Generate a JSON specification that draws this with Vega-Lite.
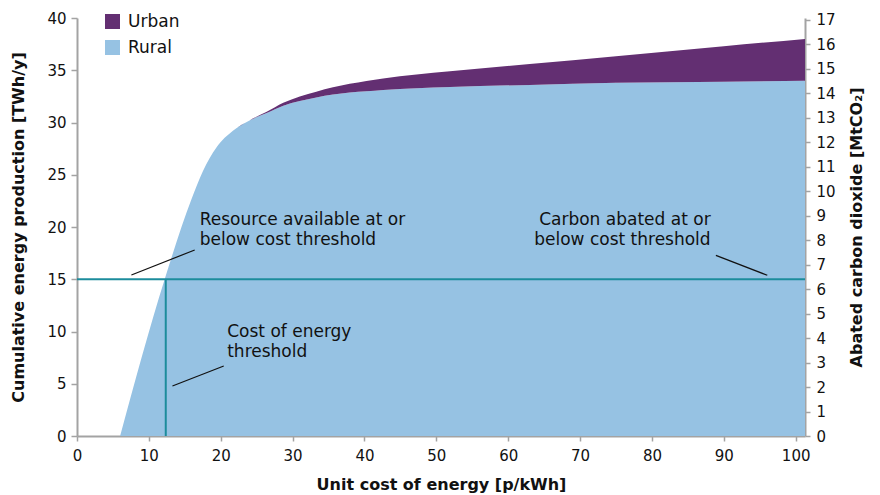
{
  "$schema": "https://vega.github.io/schema/vega-lite/v6.json",
  "width": 728,
  "height": 418,
  "autosize": {"type": "none"},
  "padding": {"left": 77, "top": 18, "right": 75, "bottom": 59},
  "background": "white",
  "config": {
    "view": {"stroke": null},
    "font": "DejaVu Sans",
    "axis": {
      "grid": false,
      "domainColor": "#a3a3a3",
      "domainWidth": 2,
      "tickColor": "#a3a3a3",
      "tickWidth": 1.5,
      "labelFont": "DejaVu Sans",
      "labelFontSize": 15,
      "labelColor": "#111111",
      "titleFont": "DejaVu Sans",
      "titleFontSize": 16,
      "titleFontWeight": "bold",
      "titleColor": "#111111"
    }
  },
  "datasets": {
    "supply": [
      {"cost": 6.0, "series": "Rural", "twh": 0},
      {"cost": 12.2, "series": "Rural", "twh": 15.0},
      {"cost": 15.9, "series": "Rural", "twh": 22.6},
      {"cost": 17.5, "series": "Rural", "twh": 25.3},
      {"cost": 19.4, "series": "Rural", "twh": 27.6},
      {"cost": 21.7, "series": "Rural", "twh": 29.2},
      {"cost": 24.0, "series": "Rural", "twh": 30.2},
      {"cost": 26.4, "series": "Rural", "twh": 30.9},
      {"cost": 28.7, "series": "Rural", "twh": 31.6},
      {"cost": 33.3, "series": "Rural", "twh": 32.4},
      {"cost": 42.6, "series": "Rural", "twh": 33.1},
      {"cost": 51.9, "series": "Rural", "twh": 33.4},
      {"cost": 63.0, "series": "Rural", "twh": 33.6},
      {"cost": 75.0, "series": "Rural", "twh": 33.8},
      {"cost": 90.0, "series": "Rural", "twh": 33.9},
      {"cost": 101.3, "series": "Rural", "twh": 34.0},
      {"cost": 6.0, "series": "Urban", "twh": 0},
      {"cost": 12.2, "series": "Urban", "twh": 0},
      {"cost": 15.9, "series": "Urban", "twh": 0},
      {"cost": 17.5, "series": "Urban", "twh": 0},
      {"cost": 19.4, "series": "Urban", "twh": 0},
      {"cost": 21.7, "series": "Urban", "twh": 0},
      {"cost": 24.0, "series": "Urban", "twh": 0},
      {"cost": 26.4, "series": "Urban", "twh": 0.12},
      {"cost": 28.7, "series": "Urban", "twh": 0.28},
      {"cost": 33.3, "series": "Urban", "twh": 0.55},
      {"cost": 42.6, "series": "Urban", "twh": 1.1},
      {"cost": 51.9, "series": "Urban", "twh": 1.5},
      {"cost": 63.0, "series": "Urban", "twh": 2.0},
      {"cost": 75.0, "series": "Urban", "twh": 2.55},
      {"cost": 90.0, "series": "Urban", "twh": 3.4},
      {"cost": 101.3, "series": "Urban", "twh": 4.0}
    ],
    "thresholds": [
      {"cost": 0, "twh": 15, "cost2": 101.3, "twh2": 15},
      {"cost": 12.35, "twh": 0, "cost2": 12.35, "twh2": 15}
    ],
    "pointers": [
      {"cost": 7.57, "twh": 15.41, "cost2": 16.38, "twh2": 17.8},
      {"cost": 13.28, "twh": 4.78, "cost2": 20.42, "twh2": 6.7},
      {"cost": 88.9, "twh": 17.29, "cost2": 96.05, "twh2": 15.38}
    ],
    "notesLeft": [
      {"cost": 17.08, "twh": 20.16, "note": "Resource available at or\nbelow cost threshold"},
      {"cost": 20.9, "twh": 9.44, "note": "Cost of energy\nthreshold"}
    ],
    "notesRight": [
      {"cost": 88.17, "twh": 20.16, "note": "Carbon abated at or\nbelow cost threshold"}
    ],
    "carbonAxis": [{"co2": 0}]
  },
  "layer": [
    {
      "layer": [
        {
          "data": {"name": "supply"},
          "mark": {"type": "area", "interpolate": "monotone"},
          "encoding": {
            "x": {
              "field": "cost",
              "type": "quantitative",
              "scale": {"domain": [0, 101.3], "nice": false, "zero": false},
              "axis": {
                "title": "Unit cost of energy [p/kWh]",
                "values": [0, 5, 10, 15, 20, 25, 30, 35, 40, 45, 50, 55, 60, 65, 70, 75, 80, 85, 90, 95, 100],
                "labelExpr": "datum.value % 10 === 0 ? datum.label : ''",
                "tickSize": 5,
                "labelPadding": 7,
                "titlePadding": 13,
                "labelFlush": false
              }
            },
            "y": {
              "field": "twh",
              "type": "quantitative",
              "stack": "zero",
              "scale": {"domain": [0, 40], "nice": false},
              "axis": {
                "title": "Cumulative energy production [TWh/y]",
                "orient": "left",
                "values": [0, 5, 10, 15, 20, 25, 30, 35, 40],
                "tickSize": 6,
                "labelPadding": 5,
                "titlePadding": 20,
                "labelFlush": false
              }
            },
            "color": {
              "field": "series",
              "type": "nominal",
              "scale": {"domain": ["Urban", "Rural"], "range": ["#632f72", "#96c2e3"]},
              "legend": {
                "title": null,
                "orient": "none",
                "legendX": 27,
                "legendY": -5,
                "padding": 0,
                "symbolType": "square",
                "symbolSize": 225,
                "symbolStrokeWidth": 0,
                "symbolOpacity": 1,
                "labelFont": "DejaVu Sans",
                "labelFontSize": 17,
                "labelColor": "#111111",
                "labelOffset": 7,
                "rowPadding": 8
              }
            },
            "order": {"field": "series", "sort": "ascending"}
          }
        },
        {
          "data": {"name": "thresholds"},
          "mark": {"type": "rule", "color": "#1c8c9c", "strokeWidth": 2},
          "encoding": {
            "x": {"field": "cost", "type": "quantitative"},
            "y": {"field": "twh", "type": "quantitative"},
            "x2": {"field": "cost2"},
            "y2": {"field": "twh2"}
          }
        },
        {
          "data": {"name": "pointers"},
          "mark": {"type": "rule", "color": "#111111", "strokeWidth": 1.2},
          "encoding": {
            "x": {"field": "cost", "type": "quantitative"},
            "y": {"field": "twh", "type": "quantitative"},
            "x2": {"field": "cost2"},
            "y2": {"field": "twh2"}
          }
        },
        {
          "data": {"name": "notesLeft"},
          "mark": {"type": "text", "align": "left", "baseline": "alphabetic", "lineBreak": "\n", "lineHeight": 20, "font": "DejaVu Sans", "fontSize": 17, "color": "#111111"},
          "encoding": {
            "x": {"field": "cost", "type": "quantitative"},
            "y": {"field": "twh", "type": "quantitative"},
            "text": {"field": "note"}
          }
        },
        {
          "data": {"name": "notesRight"},
          "mark": {"type": "text", "align": "right", "baseline": "alphabetic", "lineBreak": "\n", "lineHeight": 20, "font": "DejaVu Sans", "fontSize": 17, "color": "#111111"},
          "encoding": {
            "x": {"field": "cost", "type": "quantitative"},
            "y": {"field": "twh", "type": "quantitative"},
            "text": {"field": "note"}
          }
        }
      ]
    },
    {
      "data": {"name": "carbonAxis"},
      "mark": {"type": "point", "opacity": 0},
      "encoding": {
        "y": {
          "field": "co2",
          "type": "quantitative",
          "scale": {"domain": [0, 17.07], "nice": false},
          "axis": {
            "title": "Abated carbon dioxide  [MtCO₂]",
            "orient": "right",
            "values": [0, 1, 2, 3, 4, 5, 6, 7, 8, 9, 10, 11, 12, 13, 14, 15, 16, 17],
            "tickSize": 5,
            "labelPadding": 6,
            "titleAngle": 270,
            "titleBaseline": "top",
            "titlePadding": 13,
            "labelFlush": false
          }
        }
      }
    }
  ],
  "resolve": {"scale": {"y": "independent"}}
}
